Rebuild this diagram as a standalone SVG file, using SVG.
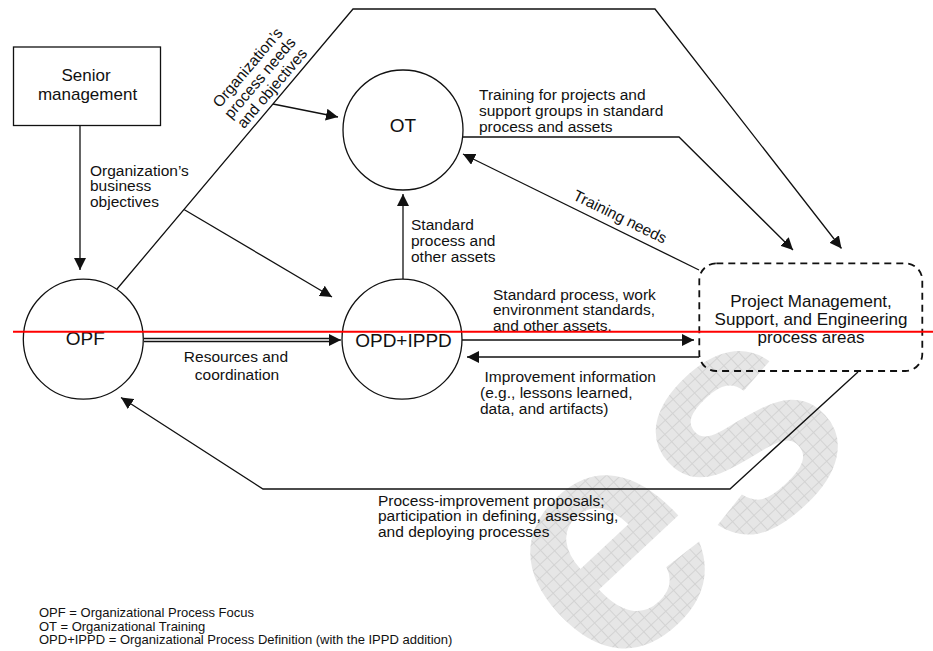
<svg xmlns="http://www.w3.org/2000/svg" width="933" height="651" viewBox="0 0 933 651">
  <style>
    text { font-family: "Liberation Sans", Arial, Helvetica, sans-serif; fill: #111; }
    .lbl { font-size: 15.5px; }
    .mid { text-anchor: middle; }
    .node { fill: #fff; stroke: #111; stroke-width: 1.3; }
    .nlbl { font-size: 19px; text-anchor: middle; }
    .blbl { font-size: 17px; text-anchor: middle; }
    .con { fill: none; stroke: #111; stroke-width: 1.3; }
    .arr { marker-end: url(#ah); }
    .legend { font-size: 13px; }
    .wm { font-family: "Liberation Sans", Arial, sans-serif; font-weight: bold; font-size: 320px; fill: url(#grid); }
  </style>
  <defs>
    <marker id="ah" viewBox="0 0 12 12" refX="12" refY="6" markerWidth="12" markerHeight="12" markerUnits="userSpaceOnUse" orient="auto">
      <path d="M0,0 L12,6 L0,12 z" fill="#111"/>
    </marker>
    <pattern id="grid" width="10" height="10" patternUnits="userSpaceOnUse">
      <rect width="10" height="10" fill="#e6e6e6"/>
      <path d="M0,0.5 H10 M0.5,0 V10" stroke="#d3d3d3" stroke-width="1"/>
    </pattern>
  </defs>

  <!-- background watermark -->
  <text class="wm" x="608" y="685" transform="rotate(-43 608 685)">es</text>

  <!-- connectors and their labels -->
  <g id="connectors">
    <path class="con arr" d="M80,125.5 V270"/>
    <path class="con arr" d="M117,289 L353,9 L655,9 L841.5,248.5"/>
    <path class="con arr" d="M273,104 L338,117"/>
    <path class="con arr" d="M184,209.5 L332,297"/>
    <path class="con arr" d="M463,137 H679 L793,250"/>
    <path class="con arr" d="M699,270 L463,154"/>
    <path class="con arr" d="M403,279 V194"/>
    <!-- hollow double-ruled shaft for the resources link -->
    <path class="con" d="M144,338.5 H330 M144,341.5 H330 M330,338 V342" stroke-width="1"/>
    <path class="con arr" d="M329,340 H341"/>
    <path class="con arr" d="M462,340 H694" stroke-width="1.5"/>
    <path class="con arr" d="M699,357 H467"/>
    <path class="con arr" d="M858,372 L730,489 H263 L121,397.5"/>

    <text class="lbl" x="90"><tspan x="90" y="175.5">Organization’s</tspan><tspan x="90" y="191.3">business</tspan><tspan x="90" y="207.3">objectives</tspan></text>
    <g transform="translate(260,78) rotate(-49.7)">
      <text class="lbl mid"><tspan x="0" y="-11">Organization’s</tspan><tspan x="0" y="5">process needs</tspan><tspan x="0" y="21">and objectives</tspan></text>
    </g>
    <text class="lbl" x="479"><tspan x="479" y="100">Training for projects and</tspan><tspan x="479" y="115.8">support groups in standard</tspan><tspan x="479" y="131.6">process and assets</tspan></text>
    <text class="lbl mid" transform="translate(620,217) rotate(26.2)" x="0" y="5">Training needs</text>
    <text class="lbl" x="411"><tspan x="411" y="230">Standard</tspan><tspan x="411" y="246">process and</tspan><tspan x="411" y="262">other assets</tspan></text>
    <text class="lbl" x="493"><tspan x="493" y="299.5">Standard process, work</tspan><tspan x="493" y="315.3">environment standards,</tspan><tspan x="493" y="331.1">and other assets.</tspan></text>
    <text class="lbl mid" x="236"><tspan x="236" y="361.5">Resources and</tspan><tspan x="237" y="379.5">coordination</tspan></text>
    <text class="lbl" x="484"><tspan x="484.5" y="382">Improvement information</tspan><tspan x="480" y="398">(e.g., lessons learned,</tspan><tspan x="480" y="414">data, and artifacts)</tspan></text>
    <text class="lbl" x="378"><tspan x="378" y="505.5">Process-improvement proposals;</tspan><tspan x="378" y="521.3">participation in defining, assessing,</tspan><tspan x="378" y="537.1">and deploying processes</tspan></text>
  </g>

  <g id="senior">
    <rect x="13.5" y="47" width="147" height="78.5" fill="#fff" stroke="#111" stroke-width="1.3"/>
    <text class="blbl"><tspan x="86" y="80.7">Senior</tspan><tspan x="87.5" y="100">management</tspan></text>
  </g>

  <g id="opf">
    <circle class="node" cx="83.3" cy="339.2" r="60"/>
    <text class="nlbl" x="85.3" y="344.5">OPF</text>
  </g>

  <g id="ot">
    <circle class="node" cx="403" cy="130" r="60"/>
    <text class="nlbl" x="403" y="132">OT</text>
  </g>

  <g id="opd">
    <circle class="node" cx="402" cy="339.2" r="60"/>
    <text class="nlbl" x="403.5" y="346.5">OPD+IPPD</text>
  </g>

  <g id="pm">
    <rect x="699.3" y="263.3" width="223" height="107.7" rx="17" ry="17" fill="none" stroke="#111" stroke-width="1.8" stroke-dasharray="7 5"/>
    <text class="blbl"><tspan x="811" y="306.7">Project Management,</tspan><tspan x="811" y="325">Support, and Engineering</tspan><tspan x="811" y="342.7">process areas</tspan></text>
  </g>

  <g id="legend">
    <text class="legend"><tspan x="39" y="616.7">OPF = Organizational Process Focus</tspan><tspan x="39" y="630.6">OT = Organizational Training</tspan><tspan x="39" y="644.4">OPD+IPPD = Organizational Process Definition (with the IPPD addition)</tspan></text>
  </g>

  <!-- red horizontal rule across the page -->
  <path d="M13,331.8 H933" stroke="#f00" stroke-width="2"/>
</svg>
